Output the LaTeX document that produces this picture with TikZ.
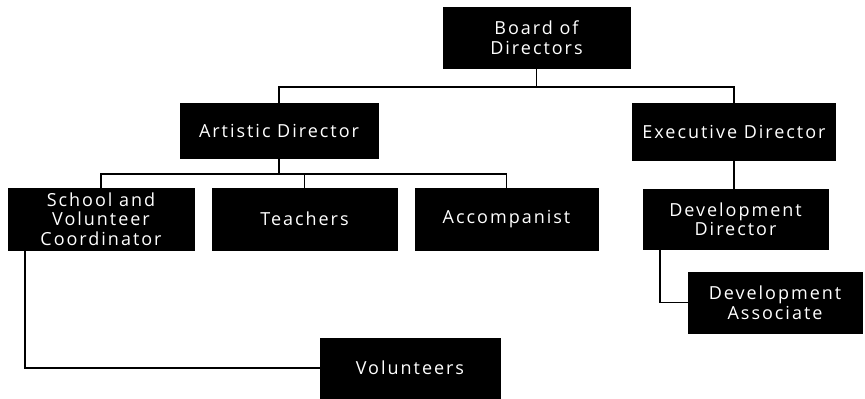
\documentclass[tikz,border=0pt]{standalone}
\usepackage{fontspec}
\setmainfont{Open Sans}[LetterSpace=11]
\begin{document}
\begin{tikzpicture}[x=1pt,y=-1pt,
  box/.style={fill=black,draw=black,text=white,align=center,inner sep=0pt,
    font=\fontsize{18}{19.5}\selectfont},
  conn/.style={draw=black,line width=1.6pt}]
\useasboundingbox (0,0) rectangle (865,399);
\node[box,minimum width=187pt,minimum height=61pt] (board) at (536.5,37.5) {Board of\\Directors};
\node[box,minimum width=198pt,minimum height=55pt] (art) at (279,130.5) {Artistic Director};
\node[box,minimum width=203pt,minimum height=57pt] (exec) at (734,131.5) {Executive Director};
\node[box,minimum width=185pt,minimum height=60pt] (devdir) at (735.5,219) {Development\\Director};
\node[box,minimum width=186pt,minimum height=62pt] (school) at (101,219) {School and\\Volunteer\\Coordinator};
\node[box,minimum width=185pt,minimum height=62pt] (teach) at (304.5,219) {Teachers};
\node[box,minimum width=183pt,minimum height=62pt] (acc) at (506.5,219) {Accompanist};
\node[box,minimum width=174pt,minimum height=61pt] (devass) at (775,302.5) {Development\\Associate};
\node[box,minimum width=180pt,minimum height=60pt] (vol) at (410,368) {Volunteers};
\coordinate (j1) at (536.5,87);
\coordinate (j2) at (279,174);
\draw[conn] (board.south) -- (j1);
\draw[conn] (art.north) |- (j1) -| (exec.north);
\draw[conn] (art.south) -- (j2);
\draw[conn] (school.north) |- (j2) -| (acc.north);
\draw[conn] (teach.north) -- (teach.north |- j2);
\draw[conn] (exec.south) -- (exec.south |- devdir.north);
\draw[conn] ([xshift=17pt]school.south west) |- (vol.west);
\draw[conn] ([xshift=17pt]devdir.south west) |- (devass.west);
\end{tikzpicture}
\end{document}
